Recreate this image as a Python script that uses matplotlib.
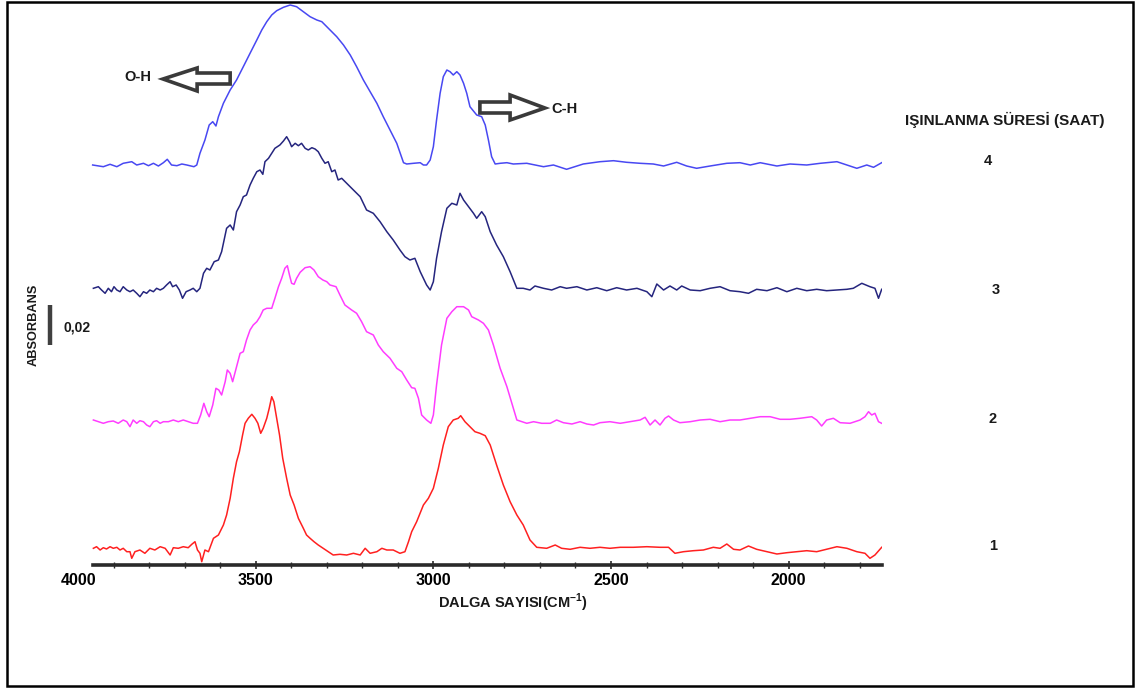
import matplotlib
matplotlib.use("Agg")
import matplotlib.pyplot as plt
from matplotlib.patches import Polygon, Rectangle
from matplotlib.ticker import FixedLocator
from matplotlib.transforms import blended_transform_factory

# ---------------- data (wavenumber cm-1, stacked absorbance in a.u.; 0,02 abs = SCALE_BAR units)
wn_4 = [3959, 3929, 3910, 3891, 3873, 3849, 3835, 3816, 3802, 3788, 3774, 3760, 3749, 3737, 3722, 3708,
        3694, 3674, 3666, 3657, 3643, 3631, 3621, 3612, 3605, 3591, 3572, 3554, 3535, 3516, 3497, 3483,
        3469, 3455, 3441, 3422, 3403, 3385, 3366, 3347, 3328, 3314, 3300, 3272, 3253, 3234, 3216, 3197,
        3178, 3159, 3141, 3122, 3103, 3084, 3075, 3056, 3037, 3028, 3019, 3009, 3000, 2991, 2981, 2972,
        2962, 2953, 2944, 2934, 2925, 2915, 2906, 2897, 2878, 2864, 2854, 2845, 2836, 2826, 2812, 2793,
        2775, 2737, 2690, 2662, 2625, 2578, 2531, 2493, 2456, 2418, 2381, 2352, 2315, 2287, 2259, 2221,
        2174, 2137, 2108, 2080, 2033, 1996, 1949, 1911, 1864, 1836, 1808, 1780, 1761, 1738]
abs_4 = [400, 398.3, 400.7, 398.3, 401.7, 403.3, 400, 401.7, 399.3, 401.7, 399, 402.3, 405.7, 400, 399.3, 401,
         400, 398.3, 400, 411.7, 425, 440, 443.3, 439, 448.3, 461.7, 475, 485, 498.3, 511.7, 525, 535,
         543.3, 550, 554.3, 557.7, 560, 558.3, 553.3, 548.3, 545, 543.3, 538.3, 528.3, 520, 510, 498.3, 485,
         473.3, 461.7, 448.3, 435, 421.7, 402.3, 401, 401.7, 402.3, 400, 400, 405, 418.3, 445, 471.7, 488.3,
         495, 493.3, 490, 493.3, 490, 481.7, 471.7, 458.3, 450, 448.3, 440, 425, 408.3, 401, 401.7, 402.3,
         401, 401.7, 398.3, 400, 395.7, 401, 403.3, 404.3, 402.7, 401.7, 401, 399, 402.7, 399, 396.7, 399,
         401.7, 402.3, 400, 402.3, 399, 401, 400, 401.7, 403.3, 400, 396.7, 400, 397.7, 402.3]

wn_3 = [3957, 3943, 3934, 3924, 3915, 3906, 3899, 3891, 3882, 3873, 3863, 3854, 3845, 3835, 3826, 3816,
        3807, 3798, 3788, 3779, 3769, 3760, 3751, 3741, 3734, 3724, 3715, 3706, 3696, 3685, 3676, 3666,
        3657, 3647, 3638, 3629, 3617, 3605, 3596, 3582, 3572, 3563, 3554, 3544, 3535, 3526, 3516, 3507,
        3497, 3488, 3480, 3474, 3464, 3455, 3446, 3432, 3422, 3413, 3405, 3399, 3389, 3380, 3371, 3361,
        3352, 3342, 3333, 3324, 3314, 3305, 3296, 3286, 3277, 3268, 3258, 3244, 3225, 3206, 3188, 3169,
        3150, 3131, 3113, 3094, 3080, 3066, 3052, 3037, 3019, 3009, 3000, 2991, 2977, 2962, 2948, 2934,
        2925, 2915, 2901, 2887, 2878, 2864, 2854, 2840, 2822, 2803, 2784, 2765,
        2747, 2728, 2714, 2690, 2667, 2643, 2625, 2596, 2568, 2540, 2512, 2484, 2456, 2427, 2399, 2385,
        2371, 2352, 2334, 2315, 2301, 2277, 2249, 2221, 2193, 2165, 2137, 2113, 2090, 2061, 2033, 2005,
        1977, 1949, 1921, 1893, 1864, 1836, 1818, 1794, 1771, 1757, 1747, 1738]
abs_3 = [276.7, 278.3, 275, 271.7, 276.7, 273.3, 278.3, 275, 273.3, 278.3, 275, 273.3, 275, 271.7, 268.3, 273.3,
         271.7, 275, 273.3, 276.7, 275, 276.7, 280, 283.3, 278.3, 280, 275, 266.7, 273.3, 275, 276.7, 273.3,
         276.7, 291.7, 296.7, 295, 303.3, 305, 313.3, 336.7, 340, 335, 353.3, 360, 368.3, 370, 380, 386.7,
         393.3, 395, 390.7, 403.3, 406.7, 411.7, 416.7, 420, 424, 428.3, 423.3, 418.3, 421.7, 419.3, 421.7, 416.7,
         415, 417.3, 416, 413.3, 406.7, 401.7, 403.3, 393.3, 395, 385, 386.7, 381.7, 375, 368.3, 355, 351.7,
         343.3, 333.3, 325, 315, 308.3, 305, 306.7, 293.3, 280, 275, 283.3, 306.7, 333.3, 356.7, 361.7, 360,
         371.7, 365, 358.3, 351.7, 346.7, 353.3, 348.3, 333.3, 320, 308.3, 293.3, 276.7,
         276.7, 275, 279, 276.7, 275, 278.3, 276.7, 278.3, 275, 277.3, 274.3, 277.3, 275, 276.7, 273.3, 268.3,
         281, 275, 279, 275, 279, 275, 274.3, 276.7, 278.3, 274.3, 273.3, 271.7, 275.7, 274.3, 277.3, 273.3,
         276.7, 274.3, 275.7, 274.3, 275, 275.7, 276.7, 281.7, 278.3, 276.7, 266.7, 275.7]

wn_2 = [3957, 3943, 3929, 3915, 3901, 3887, 3873, 3863, 3854, 3845, 3835, 3826, 3816, 3807, 3798, 3788,
        3779, 3769, 3760, 3746, 3732, 3718, 3704, 3690, 3676, 3664, 3655, 3646, 3638, 3631, 3621, 3612,
        3604, 3596, 3586, 3580, 3572, 3565, 3554, 3544, 3535, 3526, 3516, 3507, 3497, 3488, 3479, 3469,
        3455, 3446, 3436, 3427, 3418, 3411, 3405, 3399, 3392, 3385, 3375, 3361, 3347, 3336, 3324, 3311,
        3300, 3291, 3274, 3263, 3249, 3230, 3216, 3202, 3188, 3169, 3155, 3141, 3122, 3103, 3089, 3075,
        3061, 3052, 3042, 3033, 3019, 3007, 3000, 2991, 2977, 2962, 2948, 2934, 2915, 2901, 2892, 2873,
        2859, 2845, 2831, 2812, 2793, 2779, 2765,
        2737, 2718, 2695, 2671, 2653, 2634, 2610, 2587, 2568, 2549, 2531, 2503, 2474, 2446, 2418, 2404,
        2390, 2376, 2362, 2348, 2338, 2324, 2306, 2277, 2249, 2221, 2193, 2165, 2137, 2108, 2080, 2052,
        2024, 1996, 1968, 1935, 1921, 1907, 1893, 1874, 1855, 1827, 1799, 1785, 1775, 1766, 1757, 1747, 1738]
abs_2 = [145, 143.3, 141.7, 143.3, 144, 141.7, 145, 143.3, 138.3, 145, 141.7, 144.3, 143.3, 140, 138.3, 143.3,
         144.3, 141.7, 143.3, 143.3, 145, 143.3, 145, 143.3, 141.7, 141.7, 150, 161.7, 153.3, 148.3, 160, 176.7,
         175, 170, 183.3, 195, 191.7, 183.3, 198.3, 211.7, 213.3, 225, 235, 240, 243.3, 248.3, 255, 256.7,
         256.7, 266.7, 278.3, 286.7, 296.7, 299.3, 290, 281.7, 280.7, 286.7, 292.7, 297.3, 298.3, 295, 288.3, 285,
         283.3, 280, 278.3, 270, 260, 255, 251.7, 243.3, 233.3, 230, 220, 213.3, 206.7, 196.7, 193.3, 185,
         177.3, 176.7, 166.7, 150, 145, 141.7, 150, 180, 220, 246.7, 253.3, 258.3, 258.3, 255, 248.3, 245,
         241.7, 235, 220, 196.7, 178.3, 161.7, 145,
         141.7, 143.3, 141.7, 141.7, 145, 142.3, 141, 143.3, 141, 140, 142.3, 143.3, 141.7, 143.3, 145, 147.7,
         140, 145, 140, 146.7, 149, 145, 142.3, 143.3, 145, 145.7, 143.3, 145, 145, 146.7, 148.3, 148.3,
         145.7, 145.7, 146.7, 148.3, 145, 139, 145, 146.7, 142.3, 141.7, 145, 148.3, 153.3, 150, 151.7, 143.3, 141.7]

wn_1 = [3957, 3948, 3938, 3929, 3920, 3910, 3901, 3891, 3882, 3873, 3863, 3854, 3849, 3840, 3826, 3812,
        3798, 3784, 3769, 3755, 3741, 3732, 3718, 3704, 3690, 3680, 3671, 3664, 3657, 3652, 3643, 3633,
        3619, 3605, 3591, 3582, 3572, 3563, 3554, 3546, 3537, 3530, 3521, 3511, 3502, 3494, 3486, 3479,
        3469, 3462, 3455, 3449, 3441, 3433, 3424, 3413, 3403, 3392, 3380, 3366, 3357, 3347, 3336, 3324,
        3310, 3296, 3282, 3263, 3244, 3225, 3206, 3192, 3178, 3159, 3145, 3131, 3113, 3094, 3080, 3070,
        3061, 3047, 3028, 3014, 3000, 2986, 2972, 2958, 2944, 2930, 2923, 2911, 2897, 2883, 2869, 2854,
        2840, 2822, 2803, 2784, 2765, 2747,
        2728, 2709, 2681, 2657, 2639, 2615, 2587, 2559, 2531, 2503, 2474, 2437, 2399, 2362, 2338, 2320,
        2296, 2268, 2240, 2212, 2193, 2174, 2155, 2137, 2113, 2090, 2061, 2033, 2005, 1977, 1949, 1921,
        1893, 1864, 1836, 1808, 1785, 1771, 1757, 1738]
abs_1 = [16.7, 18.3, 15, 17.3, 16, 18.3, 16.7, 17.7, 15, 16.7, 13.3, 13.3, 6.7, 13.3, 15, 11.7,
         16.7, 15, 18.3, 16.7, 10, 17.3, 16.7, 18.3, 17.3, 20.7, 23.3, 15, 11.7, 3.3, 15, 13.3,
         26.7, 30, 40, 50, 66.7, 86.7, 103.3, 113.3, 130, 141.7, 146.7, 150.7, 146.7, 141.7, 131.7, 136.7,
         146.7, 156.7, 168.3, 163.3, 146.7, 130, 106.7, 86.7, 70, 60, 46.7, 36.7, 30, 26.7, 23.3, 20,
         16.7, 13.3, 10, 10.7, 10, 11.7, 10, 16.7, 11.7, 13.3, 16.7, 15, 15, 11.7, 13.3, 23.3,
         33.3, 43.3, 60, 66.7, 76.7, 96.7, 120, 138.3, 145, 146.7, 149.3, 143.3, 138.3, 133.3, 131.7, 129.3,
         120, 100, 80, 63.3, 50, 40,
         25, 17.7, 16.7, 20, 16.7, 15.7, 17.7, 16.7, 17.7, 16.7, 17.7, 17.7, 18.3, 17.7, 17.7, 11.7,
         13.3, 14.3, 15, 17.7, 16.7, 21, 15.7, 15, 19, 15.7, 13.3, 11, 12.3, 13.3, 14.3, 13.3,
         15.7, 18.3, 16.7, 13.3, 11.7, 6.7, 10, 17.7]

series_labels = ["4", "3", "2", "1"]
series_colors = ["#4848f2", "#25257e", "#ff3cff", "#ff2020"]
series_wn = [wn_4, wn_3, wn_2, wn_1]
series_abs = [abs_4, abs_3, abs_2, abs_1]

major_ticks = [4000, 3500, 3000, 2500, 2000]
minor_ticks = [3900, 3800, 3700, 3600, 3400, 3300, 3200, 3100, 2900, 2800, 2700, 2600,
               2400, 2300, 2200, 2100, 1900, 1800]
SCALE_BAR = 40          # length of the 0,02 absorbance bar in plot units
SCALE_BAR_BASE = 220

# ---------------- figure
plt.rcParams['font.family'] = ['Liberation Sans', 'DejaVu Sans']
plt.rcParams['mathtext.fontset'] = 'custom'
plt.rcParams['mathtext.bf'] = 'Liberation Sans:bold'
plt.rcParams['mathtext.rm'] = 'Liberation Sans:bold'

W, H = 1135, 688
fig = plt.figure(figsize=(W / 100, H / 100), dpi=100)
fig.patch.set_facecolor('white')
ax = fig.add_axes([78.1 / W, 1 - 565 / H, (881.7 - 78.1) / W, 565 / H])
ax.patch.set_alpha(0)

for wn, a, c in zip(series_wn, series_abs, series_colors):
    ax.plot(wn, a, color=c, lw=1.1, solid_joinstyle='round', zorder=3)

ax.set_xlim(4000, 1738)
ax.set_ylim(0, 565)
for s in ['top', 'right', 'left']:
    ax.spines[s].set_visible(False)
axis_col = '#2a2a2a'
ax.spines['bottom'].set_bounds(3959, 1738)
ax.spines['bottom'].set_linewidth(2.6)
ax.spines['bottom'].set_color(axis_col)
ax.set_yticks([])
ax.xaxis.set_major_locator(FixedLocator(major_ticks))
ax.xaxis.set_minor_locator(FixedLocator(minor_ticks))
ax.tick_params(axis='x', which='major', direction='inout', length=6, width=1.2,
               color=axis_col, pad=3, labelsize=11.5)
ax.tick_params(axis='x', which='minor', direction='inout', length=4, width=1.0, color=axis_col)
for lab in ax.get_xticklabels():
    lab.set_fontweight('bold')
ax.xaxis.get_major_ticks()[0].tick1line.set_visible(False)


def fx(px):
    return px / W


def fy(py):
    return 1 - py / H


# arrows (annotation shapes, data coordinates)
oh_arrow = [(3572, 492), (3665, 492), (3665, 497), (3761, 486), (3665, 474), (3665, 481), (3572, 481)]
ch_arrow = [(2869, 463), (2784, 463), (2784, 470), (2686, 457), (2784, 445), (2784, 452), (2869, 452)]
for pts in (oh_arrow, ch_arrow):
    ax.add_patch(Polygon(pts, closed=True, facecolor='white', edgecolor='#3a3a3a', lw=2.6,
                         joinstyle='miter', clip_on=False, zorder=4))

ax.text(3795, 488, "O-H", ha='right', va='center', fontsize=10.5, fontweight='bold', color='#1a1a1a')
ax.text(2668, 456, "C-H", ha='left', va='center', fontsize=10.5, fontweight='bold', color='#1a1a1a')

# scale bar
trans = blended_transform_factory(fig.transFigure, ax.transData)
ax.plot([fx(50), fx(50)], [SCALE_BAR_BASE, SCALE_BAR_BASE + SCALE_BAR], transform=trans,
        color='#404040', lw=3.2, clip_on=False, solid_capstyle='butt')
fig.text(fx(63), fy(327.5), "0,02", ha='left', va='center', fontsize=10, fontweight='bold', color='#1a1a1a')
fig.text(fx(34), fy(325), "ABSORBANS", ha='center', va='center', rotation=90,
         fontsize=9.2, fontweight='bold', color='#1a1a1a')

# legend-like labels at right
fig.text(fx(1005), fy(120), "IŞINLANMA SÜRESİ (SAAT)", ha='center', va='center',
         fontsize=11, fontweight='bold', color='#1a1a1a')
for lab, xpx, ypx in zip(series_labels, [988, 996, 993, 993], [161, 290, 419, 546]):
    fig.text(fx(xpx), fy(ypx), lab, ha='center', va='center', fontsize=10.5, fontweight='bold', color='#1a1a1a')

fig.text(fx(513), fy(603), r"DALGA SAYISI(CM$^{\mathbf{-1}}$)", ha='center', va='center',
         fontsize=10.5, fontweight='bold', color='#1a1a1a')

# outer frame
fig.add_artist(Rectangle((fx(7), fy(686)), (1133 - 7) / W, (686 - 2) / H, transform=fig.transFigure,
                         fill=False, lw=1.8, edgecolor='black'))

fig.savefig("out.png", dpi=100)
